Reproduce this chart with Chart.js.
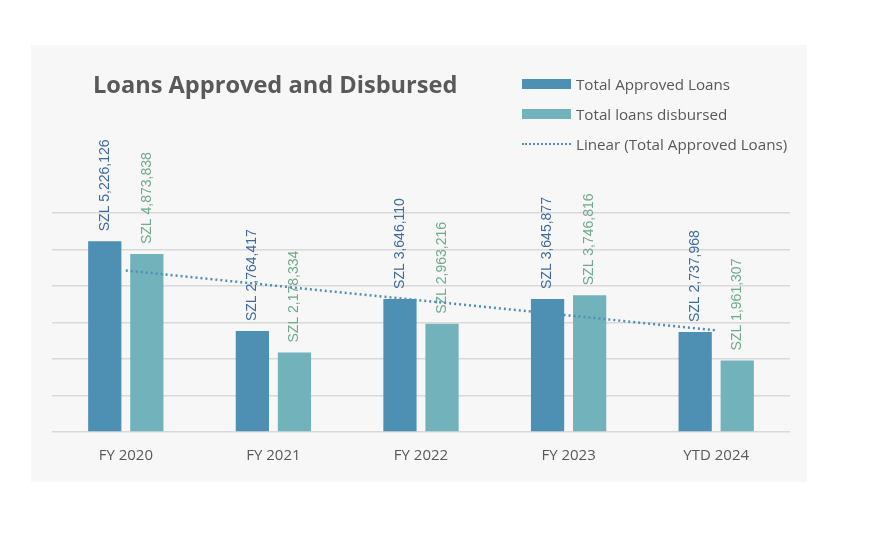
<!DOCTYPE html>
<html>
<head>
<meta charset="utf-8">
<script src="https://cdn.jsdelivr.net/npm/chart.js@4/dist/chart.umd.min.js"></script>
<style>
  body { margin: 0; background: #ffffff; }
  #panel { position: absolute; left: 31px; top: 45px; width: 776px; height: 437px; background: #f7f7f7; }
  #grafico { position: absolute; left: 0; top: 0; }
  #titulo { position: absolute; left: 62px; top: 26px; font: bold 23.6px "Open Sans", sans-serif; color: #595959; line-height: 26px; white-space: nowrap; }
  #leyenda { position: absolute; left: 491px; top: 29px; font: 15.2px "Open Sans", sans-serif; color: #595959; }
  .item { display: flex; align-items: center; height: 20px; margin-bottom: 10px; white-space: nowrap; }
  .muestra { width: 49px; height: 10px; margin-right: 5px; }
  .punteada { width: 49px; height: 0; border-top: 2px dotted #4e8fb4; margin-right: 5px; }
</style>
</head>
<body>
<div id="panel">
  <canvas id="grafico" width="776" height="437"></canvas>
  <div id="titulo">Loans Approved and Disbursed</div>
  <div id="leyenda">
    <div class="item"><span class="muestra" style="background:#4e8fb4"></span>Total Approved Loans</div>
    <div class="item"><span class="muestra" style="background:#71b2bb"></span>Total loans disbursed</div>
    <div class="item"><span class="punteada"></span>Linear (Total Approved Loans)</div>
  </div>
</div>
<script>
// --- Datos del gráfico ---
const categorias = ['FY 2020', 'FY 2021', 'FY 2022', 'FY 2023', 'YTD 2024'];
const aprobados = [5226126, 2764417, 3646110, 3645877, 2737968];
const desembolsados = [4873838, 2178334, 2963216, 3746816, 1961307];

// Tendencia lineal (mínimos cuadrados) de los préstamos aprobados
function tendenciaLineal(valores) {
    const n = valores.length;
    const mx = (n - 1) / 2;
    const my = valores.reduce((a, b) => a + b, 0) / n;
    let num = 0, den = 0;
    valores.forEach((v, i) => { num += (i - mx) * (v - my); den += (i - mx) * (i - mx); });
    const m = num / den;
    return valores.map((v, i) => my + m * (i - mx));
}
const tendencia = tendenciaLineal(aprobados);

// Etiquetas verticales encima de cada barra
const etiquetasBarras = {
    id: 'etiquetasBarras',
    afterDatasetDraw(chart, args) {
        const ds = chart.data.datasets[args.index];
        if (ds.type !== 'bar') return;
        const ctx = chart.ctx;
        ctx.save();
        ctx.font = '14px "Liberation Sans", Arial, sans-serif';
        ctx.fillStyle = ds.colorEtiqueta;
        ctx.textAlign = 'left';
        ctx.textBaseline = 'middle';
        args.meta.data.forEach((el, i) => {
            ctx.save();
            ctx.translate(el.x, el.y - 10);
            ctx.rotate(-Math.PI / 2);
            ctx.fillText('SZL ' + ds.data[i].toLocaleString('en-US'), 0, 0);
            ctx.restore();
        });
        ctx.restore();
    }
};

const ctx = document.getElementById('grafico').getContext('2d');
new Chart(ctx, {
    data: {
        labels: categorias,
        datasets: [
            {
                type: 'bar',
                label: 'Total Approved Loans',
                data: aprobados,
                backgroundColor: '#4e8fb4',
                colorEtiqueta: '#3d6b9c',
                order: 1,
                barPercentage: 0.79,
                categoryPercentage: 0.57
            },
            {
                type: 'bar',
                label: 'Total loans disbursed',
                data: desembolsados,
                backgroundColor: '#71b2bb',
                colorEtiqueta: '#6eaa8c',
                order: 1,
                barPercentage: 0.79,
                categoryPercentage: 0.57
            },
            {
                type: 'line',
                label: 'Linear (Total Approved Loans)',
                data: tendencia,
                borderColor: '#4e8fb4',
                borderWidth: 2.5,
                borderDash: [2, 3],
                pointRadius: 0,
                fill: false,
                order: 0
            }
        ]
    },
    options: {
        responsive: false,
        animation: false,
        layout: { padding: { left: 21, right: 17, top: 168, bottom: 2 } },
        plugins: {
            legend: { display: false },
            title: { display: false },
            tooltip: { enabled: false }
        },
        scales: {
            x: {
                grid: { display: false, drawTicks: false },
                border: { display: false },
                ticks: { color: '#595959', font: { family: 'Open Sans', size: 15 }, padding: 15 }
            },
            y: {
                min: 0,
                max: 6000000,
                ticks: { display: false, stepSize: 1000000 },
                grid: { color: '#d9d9d9', lineWidth: 1.5, drawTicks: false },
                border: { display: false }
            }
        }
    },
    plugins: [etiquetasBarras]
});
</script>
</body>
</html>
